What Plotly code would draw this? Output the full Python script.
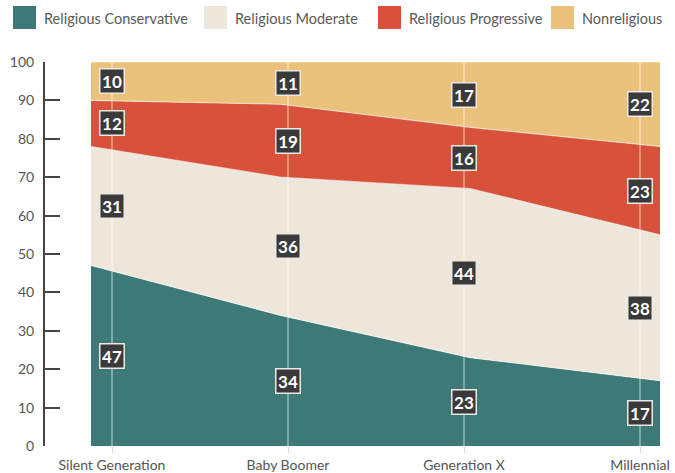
import numpy as np
import plotly.graph_objects as go

categories = ["Silent Generation", "Baby Boomer", "Generation X", "Millennial"]
series_names = ["Religious Conservative", "Religious Moderate", "Religious Progressive", "Nonreligious"]
conservative = [47, 34, 23, 17]
moderate = [31, 36, 44, 38]
progressive = [12, 19, 16, 23]
nonreligious = [10, 11, 17, 22]
y_ticks = list(range(0, 101, 10))

series = [conservative, moderate, progressive, nonreligious]
colors = ["#3d7977", "#ede6da", "#d8523b", "#ebc27c"]

W, H = 675, 473
L, R, T, B = 45, 15, 62, 27
pw = W - L - R
ph = H - T - B

def px_x(px):
    return (px - L) / pw

def px_y(py):
    return (H - B - py) / ph

# category axis: categories at 112 + 176*i px
cat0, cstep = 112, 176
x_range = [(L - cat0) / cstep, (W - R - cat0) / cstep]
# area axis: area spans from px 91 to 660
a0, a1 = 91, W - R
astep = (a1 - a0) / (len(categories) - 1)
x2_range = [(L - a0) / astep, len(categories) - 1]

fig = go.Figure()
idx = list(range(len(categories)))
for name, vals, col in zip(series_names, series, colors):
    fig.add_trace(go.Scatter(
        x=idx, y=vals, name=name, xaxis="x2", yaxis="y",
        stackgroup="one", mode="lines",
        line=dict(width=1.2, color="rgba(255,255,255,0.55)"),
        fillcolor=col, hoverinfo="skip", showlegend=False,
    ))

fig.add_trace(go.Scatter(x=[idx[0]], y=[None], xaxis="x", yaxis="y", showlegend=False, hoverinfo="skip"))

totals = np.sum(series, axis=0)
cum = np.cumsum(series, axis=0)
shapes = []
for i in idx:
    shapes.append(dict(type="line", xref="x", yref="y", x0=i, x1=i, y0=0, y1=float(totals[i]),
                       line=dict(color="rgba(255,255,255,0.45)", width=1.5), layer="above"))

annotations = []
for s, vals in enumerate(series):
    for i in idx:
        mid = cum[s][i] - vals[i] / 2
        annotations.append(dict(
            x=i, y=float(mid), xref="x", yref="y", text=f"<b>{vals[i]}</b>",
            showarrow=False, font=dict(family="Lato", size=17, color="white"),
            bgcolor="#3a3a3a", bordercolor="#ece9e4", borderwidth=1.5,
            width=21, height=21, borderpad=1,
        ))

# manual legend
leg_sq = [13, 204, 378, 551]
for name, col, sx in zip(series_names, colors, leg_sq):
    shapes.append(dict(type="rect", xref="paper", yref="paper",
                       x0=px_x(sx), x1=px_x(sx + 23), y0=px_y(29), y1=px_y(6),
                       fillcolor=col, line=dict(width=0)))
    annotations.append(dict(x=px_x(sx + 29), y=px_y(18), xref="paper", yref="paper",
                            text=name, showarrow=False, xanchor="left", yanchor="middle",
                            font=dict(family="Lato", size=14.5, color="#595959")))

fig.update_layout(
    width=W, height=H,
    margin=dict(l=L, r=R, t=T, b=B, autoexpand=False),
    paper_bgcolor="white", plot_bgcolor="white",
    showlegend=False,
    xaxis=dict(range=x_range, tickvals=idx, ticktext=categories, ticks="outside",
               ticklen=6, tickcolor="#dddddd", tickwidth=1, showgrid=False, zeroline=False,
               showline=False, tickfont=dict(family="Lato", size=14, color="#555555")),
    xaxis2=dict(range=x2_range, overlaying="x", visible=False, showgrid=False, zeroline=False),
    yaxis=dict(range=[0, 100], tickvals=y_ticks, ticks="inside", ticklen=15, tickwidth=2,
               tickcolor="#444444", showline=True, linecolor="#444444", linewidth=2,
               showgrid=False, zeroline=False, ticklabelstandoff=6,
               tickfont=dict(family="Lato", size=14, color="#555555")),
    shapes=shapes, annotations=annotations,
)

fig.write_html("out.html", config={"displayModeBar": False},
               post_script="document.body.style.margin='0';")
